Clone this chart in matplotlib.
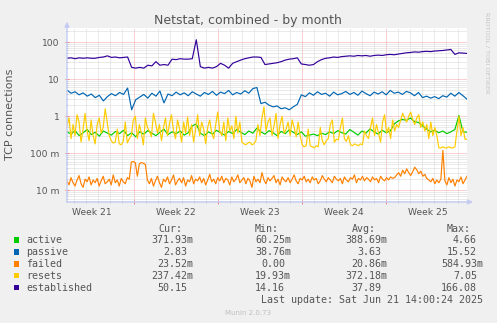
import numpy as np
import matplotlib

matplotlib.use("Agg")
import matplotlib.pyplot as plt
from matplotlib.patches import Rectangle
from matplotlib.ticker import FixedLocator, NullFormatter
from matplotlib.transforms import blended_transform_factory

# one month of 2-hour samples, 12 px per day on a 400 px wide graph
SPAN_DAYS = 400 / 12

established = [
    37, 38, 36, 38, 37, 38, 37, 37, 39, 40, 43, 39, 40, 38, 39, 40,
    21, 20, 21, 20, 24, 23, 30, 24, 25, 24,
    35, 34, 36, 35, 35, 36, 117, 22,
    20, 21, 20, 22, 27, 24, 20, 27, 30, 33, 36, 38, 40, 40, 39,
    25, 26, 27, 28, 30, 33, 35, 36, 38,
    26, 25, 24, 25, 30, 34, 37, 38, 40, 39, 41, 42, 43, 42, 44, 43,
    44, 42, 44, 45, 44, 46, 47, 46, 48,
    50, 52, 53, 55, 54, 56, 57, 56, 58, 59, 60, 62, 64, 47, 52, 51, 50,
]

passive = [
    5.1, 4.2, 4.6, 3.8, 4.3, 3.5, 4.0, 3.2, 3.7, 2.6, 3.4, 4.1, 3.6, 4.4, 3.9, 5.8,
    1.5,
    2.8, 3.3, 3.9, 3.1, 4.2, 3.5, 4.8,
    2.3, 4.0, 3.6, 4.5, 3.8, 4.3, 3.6, 4.6, 4.0,
    3.5, 4.4, 3.9, 4.7, 3.7, 4.5, 4.1, 5.0, 3.8, 4.4, 4.0, 4.9, 4.2, 5.6, 6.0,
    2.2, 2.4, 2.0, 1.8, 1.9, 1.6, 1.7, 1.5, 1.8, 2.1,
    3.8,
    3.4, 4.3, 3.7, 4.6, 3.9, 4.2, 3.5, 4.5, 3.8, 4.1,
    4.7, 3.9, 4.4, 3.7, 4.8, 4.1, 3.6, 4.5, 4.0, 4.6,
    3.8, 5.0, 4.2, 4.5, 3.9, 4.7, 4.3, 3.6, 4.4, 3.2,
    3.5, 3.1, 3.4, 3.0, 3.6, 3.3, 4.2, 3.5, 4.4, 3.6, 2.9,
]

active = [
    0.38, 0.33, 0.41, 0.30, 0.36, 0.44, 0.32, 0.37, 0.29, 0.40,
    0.35, 0.31, 0.39, 0.34, 0.42, 0.30, 0.36, 0.28, 0.38, 0.33,
    0.41, 0.35, 0.30, 0.37, 0.45, 0.32, 0.38, 0.34, 0.40, 0.31,
    0.36, 0.55, 0.62, 0.35, 0.30, 0.38, 0.33, 0.42, 0.36, 0.31,
    0.39, 0.34, 0.44, 0.37, 0.32, 0.40, 0.35, 0.48, 0.38, 0.33,
    0.41, 0.36, 0.30, 0.39, 0.34, 0.43, 0.37, 0.32, 0.38, 0.29,
    0.31, 0.33, 0.30, 0.35, 0.32, 0.38, 0.34, 0.41, 0.36, 0.33,
    0.44, 0.37, 0.31, 0.40, 0.35, 0.46, 0.38, 0.33, 0.42, 0.36,
    0.40, 0.62, 0.75, 0.82, 0.78, 0.90, 0.72, 0.68, 0.55, 0.45,
    0.38, 0.42, 0.36, 0.40, 0.34, 0.38, 0.44, 1.05, 0.38, 0.37,
]

resets = [
    0.55, 0.9, 0.25, 0.6, 0.3, 1.1, 0.7, 0.2, 0.45, 1.2, 0.4,
    0.22, 0.8, 0.3, 0.18, 0.6, 0.9, 0.35, 0.5, 1.6, 0.7, 0.3,
    0.22, 0.19, 0.2, 0.45, 0.18, 0.17, 0.21, 0.7, 0.19, 0.25,
    0.3, 0.8, 1.0, 0.25, 0.6, 0.35, 0.17, 0.9, 0.5, 0.4,
    0.28, 1.2, 0.7, 0.35, 0.6, 0.22, 0.5, 0.9, 0.3, 0.65,
    1.1, 0.4, 0.25, 0.8, 0.45, 0.2, 0.7, 0.35, 0.95, 0.3,
    0.6, 0.2, 0.45, 1.1, 0.3, 0.7, 0.45, 0.18, 0.5, 0.8,
    0.35, 0.25, 0.6, 1.3, 0.4, 0.3, 0.7, 0.22, 0.9, 0.4,
    0.55, 0.25, 1.0, 0.35, 0.7,
    0.2, 0.18, 0.17, 0.19, 0.2, 0.17, 0.18, 0.22, 0.6, 0.3,
    0.9, 1.8, 0.4, 0.7, 0.9, 0.3, 0.55, 1.2, 0.25, 0.6,
    1.0, 0.35, 0.45, 0.7, 0.3, 0.8, 0.5, 0.28, 0.7, 0.3,
    0.17, 0.15, 0.16, 0.45, 0.16, 0.15, 0.14, 0.16, 0.15, 0.5, 0.22, 0.17,
    0.22, 0.25, 0.6, 0.8, 0.2, 0.24, 0.23, 0.5, 0.9, 0.25, 0.21, 0.3,
    0.17, 0.16, 0.18, 0.17, 0.16, 0.18, 0.17, 0.4, 0.3,
    0.25, 0.5, 0.9, 0.3, 0.6, 0.35, 0.2, 0.7,
    1.1, 0.35, 0.5, 0.25, 0.8, 0.4, 0.6, 0.5,
    0.8, 1.2, 0.9, 0.7, 1.0, 1.3, 0.8, 0.6, 0.9, 1.1, 0.5, 0.7, 0.4, 0.6,
    0.25, 0.7, 0.3, 0.5, 0.3,
    0.14, 0.14, 0.15, 0.14, 0.14, 0.15, 0.14, 0.14, 0.15,
    0.4, 1.0, 0.3, 0.5, 0.24, 0.24,
]

failed = [
    0.018, 0.014, 0.022, 0.016, 0.013, 0.019, 0.025, 0.015,
    0.012, 0.020, 0.017, 0.023, 0.014, 0.019, 0.016, 0.021,
    0.013, 0.018, 0.024, 0.015, 0.017, 0.020, 0.014, 0.026,
    0.016, 0.019, 0.013, 0.021, 0.017, 0.015, 0.022, 0.020,
    0.058, 0.060, 0.055, 0.024, 0.052, 0.056, 0.054, 0.050,
    0.019, 0.015, 0.021, 0.013, 0.018, 0.024, 0.016, 0.012, 0.020, 0.017,
    0.023, 0.015, 0.019, 0.026, 0.014, 0.018, 0.021, 0.016, 0.022, 0.013,
    0.019, 0.017, 0.025, 0.015, 0.020, 0.018, 0.023, 0.016, 0.021, 0.014,
    0.019, 0.027, 0.017, 0.020, 0.015, 0.022, 0.018, 0.024, 0.016, 0.021,
    0.019, 0.014, 0.023, 0.017, 0.020, 0.026, 0.016, 0.019, 0.022, 0.015,
    0.021, 0.018, 0.012, 0.024, 0.017, 0.020, 0.016, 0.030, 0.019, 0.015,
    0.022, 0.018, 0.021, 0.025, 0.016, 0.020, 0.014, 0.023, 0.019, 0.017,
    0.022, 0.016, 0.020, 0.026, 0.018, 0.015, 0.021, 0.019, 0.024, 0.017,
    0.020, 0.016, 0.023, 0.019, 0.021, 0.015, 0.018, 0.025, 0.020, 0.017,
    0.022, 0.019, 0.016, 0.024, 0.020, 0.018, 0.021, 0.015, 0.023, 0.019,
    0.017, 0.022, 0.020, 0.026, 0.016, 0.021, 0.019, 0.024, 0.018, 0.022,
    0.020, 0.017, 0.023, 0.019, 0.021, 0.016, 0.024, 0.020, 0.018, 0.022,
    0.019, 0.023, 0.021,
    0.022, 0.026, 0.030, 0.024, 0.035, 0.028, 0.038, 0.030, 0.025,
    0.032, 0.042, 0.036, 0.028, 0.033, 0.024, 0.027, 0.021, 0.019,
    0.017, 0.021, 0.015, 0.019, 0.016, 0.020,
    0.120,
    0.018, 0.014, 0.022, 0.016, 0.020, 0.013, 0.019, 0.017, 0.023, 0.015, 0.019, 0.024,
]

week_labels = ["Week 21", "Week 22", "Week 23", "Week 24", "Week 25"]
first_week_start = 5.583  # days from left edge to the first Monday line

names = ["active", "passive", "failed", "resets", "established"]
colors = ["#00CC00", "#0066B3", "#FF8000", "#FFCC00", "#330099"]
series = [active, passive, failed, resets, established]
cur = ["371.93m", "2.83", "23.52m", "237.42m", "50.15"]
vmin = ["60.25m", "38.76m", "0.00", "19.93m", "14.16"]
avg = ["388.69m", "3.63", "20.86m", "372.18m", "37.89"]
vmax = ["4.66", "15.52", "584.93m", "7.05", "166.08"]

W, H = 497, 323
TEXT = "#555555"


def fx(px):
    return px / W


def fy(py):
    return 1 - py / H


fig = plt.figure(figsize=(W / 100, H / 100), dpi=100, facecolor="#F0F0F0")
ax = fig.add_axes([fx(67), fy(202), fx(467) - fx(67), fy(28) - fy(202)])
ax.set_facecolor("white")
ax.set_yscale("log")
ax.set_xlim(0, SPAN_DAYS)
ax.set_ylim(10 ** -2.316, 10 ** 2.386)

for vals, c in zip(series, colors):
    x = np.linspace(0, SPAN_DAYS, len(vals))
    ax.plot(x, vals, color=c, lw=0.85, zorder=3)

# grid: red dotted for decades/weeks, grey dotted for the minor steps
ax.set_yticks([0.01, 0.1, 1, 10, 100])
ax.set_yticklabels(["10 m", "100 m", "1", "10", "100"])
minor_y = [k * 10.0 ** d for d in range(-3, 3) for k in range(2, 10)]
ax.yaxis.set_minor_locator(FixedLocator(minor_y))
ax.yaxis.set_minor_formatter(NullFormatter())

week_lines = [first_week_start + 7 * i for i in range(4)]
day_lines = [first_week_start % 1 + d for d in range(34)]
ax.set_xticks(week_lines)
ax.set_xticklabels([])
ax.xaxis.set_minor_locator(FixedLocator(day_lines))

ax.set_axisbelow(True)
ax.grid(True, which="major", color="#F4A0A0", lw=0.72, ls=(0, (1, 1)))
ax.grid(True, which="minor", color="#D6D6D6", lw=0.72, ls=(0, (1, 1)))
ax.tick_params(which="major", length=3, width=0.7, color="#F08080",
               direction="inout")
ax.tick_params(which="minor", length=2, width=0.7, color="#C8C8C8",
               direction="inout")
ax.tick_params(axis="y", labelsize=6.6, labelcolor=TEXT, pad=4)
for s in ax.spines.values():
    s.set_visible(False)

trans = blended_transform_factory(ax.transData, ax.transAxes)
for i, lab in enumerate(week_labels):
    ax.text(first_week_start - 3.5 + 7 * i, -13 / 174, lab, transform=trans,
            ha="center", va="baseline", fontsize=6.6, color=TEXT)

# axis lines with arrow heads
axis_col = "#C4CCF4"
ax.annotate("", xy=(0, 1 + 6.3 / 174), xytext=(0, 0), xycoords="axes fraction",
            arrowprops=dict(arrowstyle="-|>", color=axis_col, lw=1,
                            mutation_scale=7, shrinkA=0, shrinkB=0),
            annotation_clip=False)
ax.annotate("", xy=(1 + 6 / 400, 0), xytext=(0, 0), xycoords="axes fraction",
            arrowprops=dict(arrowstyle="-|>", color=axis_col, lw=1,
                            mutation_scale=7, shrinkA=0, shrinkB=0),
            annotation_clip=False)

fig.text(fx(248), fy(24), "Netstat, combined - by month", ha="center",
         va="baseline", fontsize=9, color=TEXT)
fig.text(fx(10), fy(114), "TCP connections", rotation=90, ha="center",
         va="center", fontsize=8, color=TEXT)
fig.text(fx(487), fy(53), "RRDTOOL / TOBI OETIKER", rotation=270, ha="center",
         va="center", fontsize=4.6, color="#C4C4C4")

# legend table
mono = dict(family="DejaVu Sans Mono", fontsize=7.2, color=TEXT, va="baseline")
row0, step = 231.5, 11.85
for head, left in zip(["Cur:", "Min:", "Avg:", "Max:"], [158, 255, 352, 447]):
    fig.text(fx(left), fy(row0), head, ha="left", **mono)

col_right = [193, 291, 387, 483]
for i, name in enumerate(names):
    base = row0 + step * (i + 1)
    fig.add_artist(Rectangle((fx(14), fy(base - 0.5)), 5.4 / W, 5.4 / H,
                             transform=fig.transFigure, facecolor=colors[i],
                             edgecolor="none"))
    fig.text(fx(26), fy(base), name, ha="left", **mono)
    for col, r in zip([cur, vmin, avg, vmax], col_right):
        val = col[i]
        right = r if val.endswith("m") else r - 6
        fig.text(fx(right), fy(base), val, ha="right", **mono)

fig.text(fx(483), fy(row0 + step * 6), "Last update: Sat Jun 21 14:00:24 2025",
         ha="right", **mono)
fig.text(fx(248), fy(315), "Munin 2.0.73", ha="center", va="baseline",
         fontsize=5, color="#C0C0C0")

fig.savefig("out.png", dpi=100, facecolor=fig.get_facecolor())
